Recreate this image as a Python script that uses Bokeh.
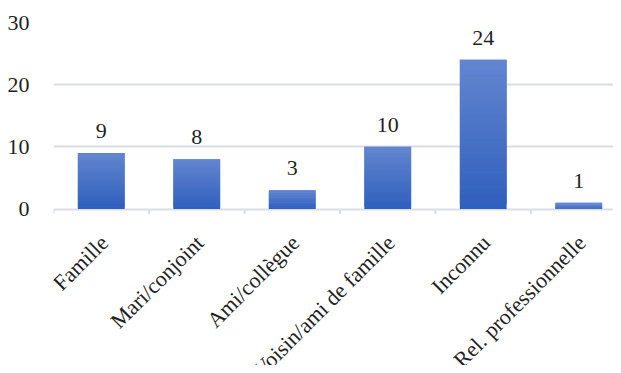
import math
from bokeh.plotting import figure
from bokeh.models import ColumnDataSource, FixedTicker, LabelSet, Range1d
from bokeh.embed import file_html
from bokeh.resources import INLINE

categories = ["Famille", "Mari/conjoint", "Ami/collègue", "Voisin/ami de famille", "Inconnu", "Rel. professionnelle"]
values = [9, 8, 3, 10, 24, 1]
y_ticks = [0, 10, 20, 30]

FONT = "Liberation Serif"
FS = "22px"
GRID = "#d9dde4"
TEXT = "#1f1f1f"

H = 365
TOP = 22
ZERO_Y = 208.5
PX_PER_UNIT = (ZERO_Y - TOP) / 30.0
y_low = -(H - ZERO_Y) / PX_PER_UNIT

p = figure(width=613, height=H, output_backend="svg", toolbar_location=None,
           x_range=Range1d(0, 5.864), y_range=Range1d(y_low, 30),
           x_axis_location=None,
           min_border_left=53, min_border_right=0, min_border_top=TOP, min_border_bottom=0)
p.outline_line_color = None
p.background_fill_color = "white"
p.border_fill_color = "white"

# gridlines (the one at 0 acts as the category axis line)
p.xgrid.grid_line_color = None
p.ygrid.ticker = FixedTicker(ticks=y_ticks)
p.ygrid.grid_line_color = GRID
p.ygrid.grid_line_width = 2

# ticks at category boundaries
bounds = list(range(len(categories) + 1))
tick_len = 5 / PX_PER_UNIT
p.segment(x0=bounds, y0=[0] * len(bounds), x1=bounds, y1=[-tick_len] * len(bounds),
          line_color=GRID, line_width=2)

# gradient bars: slices from bottom (dark) to top (light)
c_bot = (0x2f, 0x5f, 0xbd)
c_top = (0x63, 0x86, 0xcf)
N = 30
xs, bots, tops, cols = [], [], [], []
for i, v in enumerate(values):
    for k in range(N):
        t = (k + 0.5) / N
        c = tuple(int(round(c_bot[j] + (c_top[j] - c_bot[j]) * t)) for j in range(3))
        xs.append(i + 0.5)
        bots.append(v * k / N)
        tops.append(min(v, v * (k + 2) / N))
        cols.append("#%02x%02x%02x" % c)
p.vbar(x=xs, bottom=bots, top=tops, width=0.49, fill_color=cols, line_color=None)

# value labels
src = ColumnDataSource(dict(x=[i + 0.5 for i in range(len(values))], y=values,
                            t=[str(v) for v in values]))
p.add_layout(LabelSet(x="x", y="y", text="t", source=src, text_align="center",
                      text_baseline="alphabetic", y_offset=15,
                      text_font=FONT, text_font_size=FS, text_color=TEXT))

# category labels (rotated), anchored under each category centre
csrc = ColumnDataSource(dict(x=[i + 0.5 for i in range(len(categories))],
                             y=[0] * len(categories), t=categories))
p.add_layout(LabelSet(x="x", y="y", text="t", source=csrc, angle=math.pi / 4,
                      text_align="right", text_baseline="middle",
                      x_offset=3, y_offset=-30,
                      text_font=FONT, text_font_size=FS, text_color=TEXT))

# y axis
p.yaxis.ticker = FixedTicker(ticks=y_ticks)
p.yaxis.axis_line_color = None
p.yaxis.major_tick_line_color = None
p.yaxis.minor_tick_line_color = None
p.yaxis.major_label_standoff = 18
p.yaxis.major_label_text_font = FONT
p.yaxis.major_label_text_font_size = FS
p.yaxis.major_label_text_color = TEXT

open("out.html", "w").write(file_html(p, INLINE))
